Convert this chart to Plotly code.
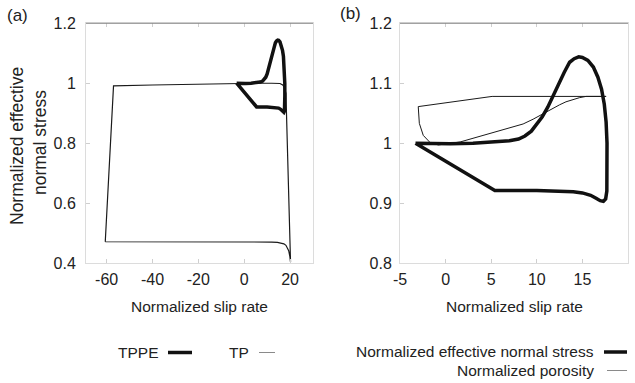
import plotly.graph_objects as go

# ---------------- data ----------------
# Panel (a) TP (thin) loop
tp_x = [-60.6, -57.0, -40.0, -28.0, -15.0, -3.0, 5.0, 12.0, 15.6, 16.8, 17.6, 18.2, 18.4, 18.9, 19.3, 19.7, 20.0, 20.2,
        19.9, 19.4, 18.8, 18.2, 17.3, 16.2, 14.5, 12.0, 0.0, -20.0, -40.0, -60.6]
tp_y = [0.471, 0.991, 0.994, 0.996, 0.998, 1.0, 1.0, 1.0, 0.999, 0.994, 0.985, 0.966, 0.91, 0.78, 0.655, 0.53, 0.42, 0.403,
        0.422, 0.441, 0.452, 0.459, 0.464, 0.467, 0.469, 0.470, 0.470, 0.470, 0.471, 0.471]

# TPPE / normalized effective normal stress (thick) loop
tppe_x = [-3.3, 5.4, 10.0, 14.0, 15.0, 15.9, 16.5, 16.95, 17.3, 17.55, 17.68, 17.72, 17.7, 17.6, 17.4, 17.1, 16.7, 16.2,
          15.6, 15.0, 14.6, 14.1, 13.6, 13.0, 12.4, 11.8, 11.2, 10.6, 10.0, 9.4, 8.7, 8.0, 7.0, 5.5, 3.0, 0.5, -1.5, -3.3]
tppe_y = [1.0, 0.921, 0.921, 0.919, 0.917, 0.913, 0.908, 0.904, 0.903, 0.907, 0.92, 0.96, 1.0, 1.035, 1.065, 1.09, 1.11,
          1.127, 1.138, 1.143, 1.144, 1.141, 1.135, 1.118, 1.098, 1.078, 1.06, 1.044, 1.031, 1.02, 1.012, 1.007, 1.004,
          1.002, 1.0, 0.999, 0.999, 1.0]

# Panel (b) normalized porosity (thin) loop
por_x = [-3.0, 5.1, 17.6, 15.4, 14.7, 14.0, 13.2, 12.5, 11.8, 11.0, 10.3, 9.6, 8.5, 5.3, 1.6, -0.8, -1.7, -2.45, -2.88, -3.0]
por_y = [1.061, 1.078, 1.078, 1.078, 1.076, 1.073, 1.069, 1.064, 1.058, 1.051, 1.045, 1.04, 1.032, 1.018, 1.002, 0.997,
         1.001, 1.013, 1.033, 1.061]

xa_ticks = [-60, -40, -20, 0, 20]
xa_labels = ["-60", "-40", "-20", "0", "20"]
ya_ticks = [0.4, 0.6, 0.8, 1.0, 1.2]
ya_labels = ["0.4", "0.6", "0.8", "1", "1.2"]
xb_ticks = [-5, 0, 5, 10, 15, 20]
xb_labels = ["-5", "0", "5", "10", "15", "20"]
yb_ticks = [0.8, 0.9, 1.0, 1.1, 1.2]
yb_labels = ["0.8", "0.9", "1", "1.1", "1.2"]

W, H = 635, 383
FONT = "Liberation Sans, Arial, sans-serif"


def px(x):
    return x / W


def py(y):
    return 1 - y / H


fig = go.Figure()
fig.add_trace(go.Scatter(x=tp_x, y=tp_y, mode="lines", line=dict(color="#1a1a1a", width=1.2),
                         xaxis="x", yaxis="y", showlegend=False, hoverinfo="skip"))
fig.add_trace(go.Scatter(x=tppe_x, y=tppe_y, mode="lines", line=dict(color="#111111", width=3.5),
                         xaxis="x", yaxis="y", showlegend=False, hoverinfo="skip"))
fig.add_trace(go.Scatter(x=por_x, y=por_y, mode="lines", line=dict(color="#1a1a1a", width=1),
                         xaxis="x2", yaxis="y2", showlegend=False, hoverinfo="skip"))
fig.add_trace(go.Scatter(x=tppe_x, y=tppe_y, mode="lines", line=dict(color="#111111", width=3.5),
                         xaxis="x2", yaxis="y2", showlegend=False, hoverinfo="skip"))

ax_common = dict(showgrid=False, zeroline=False, showline=True, linecolor="#dcdcdc", linewidth=1,
                 ticks="inside", ticklen=4, tickcolor="#cfcfcf", tickwidth=1,
                 tickfont=dict(family=FONT, size=16, color="#222222"), automargin=False)

ya_dom = [py(263), py(23.3)]
fig.update_layout(
    width=W, height=H,
    margin=dict(l=0, r=0, t=0, b=0),
    paper_bgcolor="white", plot_bgcolor="white",
    xaxis=dict(domain=[px(86), px(313)], range=[-69, 30], tickvals=xa_ticks, ticktext=xa_labels,
               anchor="y", mirror="ticks", ticklabelstandoff=2, **ax_common),
    yaxis=dict(domain=ya_dom, range=[0.4, 1.2], tickvals=ya_ticks, ticktext=ya_labels,
               anchor="x", mirror=True, ticklabelstandoff=6, **ax_common),
    xaxis2=dict(domain=[px(400), px(628)], range=[-5, 20], tickvals=xb_ticks, ticktext=xb_labels,
                anchor="y2", mirror="ticks", ticklabelstandoff=2, **ax_common),
    yaxis2=dict(domain=ya_dom, range=[0.8, 1.2], tickvals=yb_ticks, ticktext=yb_labels,
                anchor="x2", mirror=True, ticklabelstandoff=4, **ax_common),
)

# darker top frame lines
for xr, yr in (("x domain", "y domain"), ("x2 domain", "y2 domain")):
    fig.add_shape(type="line", xref=xr, yref=yr, x0=0, x1=1, y0=1, y1=1,
                  line=dict(color="#8a8a8a", width=1))

ann = []
txt_font = dict(family=FONT, size=15.5, color="#222222")
ann.append(dict(text="Normalized slip rate", x=px(199.5), y=py(306), xanchor="center", yanchor="middle"))
ann.append(dict(text="Normalized slip rate", x=px(514), y=py(306), xanchor="center", yanchor="middle"))
ann.append(dict(text="TPPE", x=px(160), y=py(352), xanchor="right", yanchor="middle"))
ann.append(dict(text="TP", x=px(251), y=py(352), xanchor="right", yanchor="middle"))
ann.append(dict(text="Normalized effective normal stress", x=px(596), y=py(351.5), xanchor="right", yanchor="middle"))
ann.append(dict(text="Normalized porosity", x=px(596), y=py(370), xanchor="right", yanchor="middle"))
for a in ann:
    a.update(xref="paper", yref="paper", showarrow=False, font=txt_font)
ytitle_font = dict(family=FONT, size=17.5, color="#222222")
ann.append(dict(text="Normalized effective", x=px(17), y=py(146), xref="paper", yref="paper", xanchor="center",
                yanchor="middle", textangle=-90, showarrow=False, font=ytitle_font))
ann.append(dict(text="normal stress", x=px(40), y=py(143), xref="paper", yref="paper", xanchor="center",
                yanchor="middle", textangle=-90, showarrow=False, font=ytitle_font))
ann.append(dict(text="(a)", x=px(17), y=py(16), xref="paper", yref="paper", xanchor="center", yanchor="middle",
                showarrow=False, font=dict(family=FONT, size=17, color="#222222")))
ann.append(dict(text="(b)", x=px(350), y=py(13), xref="paper", yref="paper", xanchor="center", yanchor="middle",
                showarrow=False, font=dict(family=FONT, size=17, color="#222222")))
fig.update_layout(annotations=ann)

# legend key lines
keys = [(168, 192, 352.5, 3.5, "#111111"), (259, 275, 352.5, 1, "#8a8a8a"),
        (604, 627, 352, 3.5, "#111111"), (607, 627, 370.5, 1, "#8a8a8a")]
for x0, x1, yy, w, c in keys:
    fig.add_shape(type="line", xref="paper", yref="paper", x0=px(x0), x1=px(x1), y0=py(yy), y1=py(yy),
                  line=dict(color=c, width=w))

fig.write_html("out.html", config={"displayModeBar": False},
               post_script="document.body.style.margin='0';")
